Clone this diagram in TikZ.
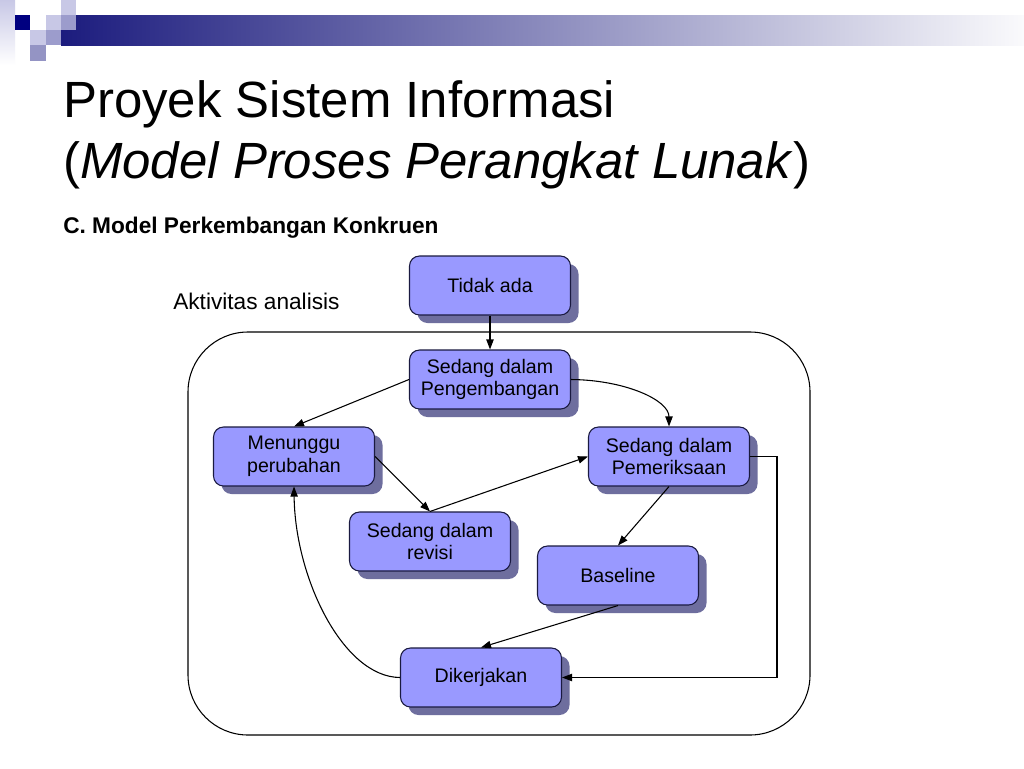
\documentclass[tikz,border=0pt]{standalone}
\usepackage{fontspec}
\setmainfont{Liberation Sans}
\usetikzlibrary{shadows,arrows.meta}
\definecolor{nodefill}{HTML}{9999FF}
\definecolor{nodeline}{HTML}{1A1A40}
\definecolor{shadowc}{HTML}{6E6E9E}
\definecolor{navy}{HTML}{000080}
\definecolor{sqlight}{HTML}{C8C8E6}
\definecolor{sqmed}{HTML}{9C9CCC}
\definecolor{sqgrey}{HTML}{9494C4}
\definecolor{barleft}{HTML}{1C1C7E}
\definecolor{barmid}{HTML}{9A9AB4}
\definecolor{barright}{HTML}{FAFAFC}
\begin{document}
\begin{tikzpicture}[x=0.75pt,y=-0.75pt,
  state/.style={draw=nodeline, line width=0.8pt, fill=nodefill, rounded corners=7.5pt,
    minimum width=120.75pt, minimum height=44.25pt, align=center, inner sep=0pt,
    font=\fontsize{14.7}{16.9}\selectfont,
    drop shadow={shadow xshift=6pt, shadow yshift=-6pt, fill=shadowc, opacity=1}},
  conn/.style={line width=0.8pt, -{Triangle[length=7.5pt,width=5.5pt]}},
  txt/.style={anchor=base west, inner sep=0pt}]
\useasboundingbox (0,0) rectangle (1024,768);
\fill[white] (0,0) rectangle (1024,768);
% header decoration
\shade[top color=sqlight, bottom color=white] (0,0) rectangle (15,65);
\shade[left color=barleft, middle color=barmid, right color=barright] (61,15) rectangle (1024,45);
\fill[sqlight] (61,0) rectangle (76,15);
\fill[navy] (15,15) rectangle (30,30);
\fill[sqlight] (46,15) rectangle (61,30);
\fill[sqmed] (61,15) rectangle (76,30);
\fill[sqlight] (30,30) rectangle (46,45);
\fill[sqmed] (46,30) rectangle (61,45);
\fill[sqgrey] (30,45) rectangle (46,61);
% titles
\node[txt, font=\fontsize{38.2}{45}\selectfont] (t1) at (63,117) {Proyek Sistem Informasi};
\node[txt, font=\fontsize{38.2}{45}\selectfont] (t2) at (63,178) {(\textit{Model Proses Perangkat Lunak})};
\node[txt, font=\bfseries\fontsize{17}{20}\selectfont] (sub) at (63,233) {C. Model Perkembangan Konkruen};
\node[txt, font=\fontsize{17}{20}\selectfont] (akt) at (173,309) {Aktivitas analisis};
% frame
\draw[line width=0.8pt, rounded corners=45pt] (188,332) rectangle (810,735);
% states
\node[state] (tidak) at (490,285.5) {Tidak ada};
\node[state] (peng) at (490,379.5) {Sedang dalam\\Pengembangan};
\node[state] (men) at (294,456.5) {Menunggu\\perubahan};
\node[state] (per) at (669,456.5) {Sedang dalam\\Pemeriksaan};
\node[state] (rev) at (430,541.5) {Sedang dalam\\revisi};
\node[state] (base) at (618,575.5) {Baseline};
\node[state] (dik) at (481,677.5) {Dikerjakan};
\coordinate (rt) at (777,456.5);
% connectors
\draw[conn] (tidak) -- (peng);
\draw[conn] (peng.west) -- (men.north);
\draw[conn] (peng.east) .. controls (625,380) and (669,400) .. (per.north);
\draw[conn] (men.east) -- (rev.north);
\draw[conn] (rev.north) -- (per.west);
\draw[conn] (per.south) -- (base.north);
\draw[conn] (base.south) -- (dik.north);
\draw[conn] (per.east) -- (rt) |- (dik.east);
\draw[conn] (dik.west) .. controls (343,677) and (295,578) .. (men.south);
\end{tikzpicture}
\end{document}
